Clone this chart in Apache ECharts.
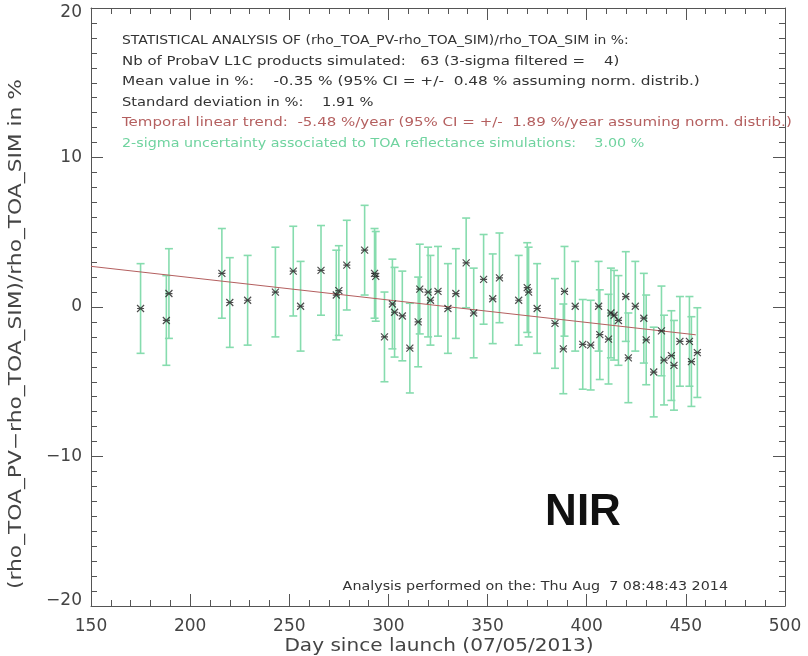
<!DOCTYPE html>
<html>
<head>
<meta charset="utf-8">
<script src="https://cdn.jsdelivr.net/npm/echarts@6/dist/echarts.min.js"></script>
<style>
  html, body { margin: 0; padding: 0; background: #fff; }
  #chart { width: 808px; height: 656px; }
</style>
</head>
<body>
<div id="chart"></div>
<script>
'use strict';

// days since launch for each simulated product
var dayValues = [
    175, 188, 189.3, 216, 220, 229, 243, 252, 255.7, 266,
    273.7, 275, 279, 288, 293, 293.6, 298, 302, 303.1, 307,
    310.8, 315, 315.8, 320, 321.2, 325, 330, 334, 339.2, 343,
    348, 352.6, 356, 365.7, 370, 370.7, 375, 384, 388.2, 388.8,
    394.2, 398, 402, 406, 406.6, 411, 412.2, 413.8, 416, 419.7,
    421, 424.5, 428.8, 430, 433.8, 437.7, 439, 442.7, 444, 447,
    451.8, 452.8, 455.8
];
// (rho_TOA_PV - rho_TOA_SIM) / rho_TOA_SIM in %
var diffValues = [
    -0.1, -0.9, 0.9, 2.25, 0.3, 0.45, 1.0, 2.4, 0.05, 2.45,
    0.8, 1.1, 2.8, 3.8, 2.25, 2.05, -2.0, 0.2, -0.35, -0.6,
    -2.75, -1.0, 1.2, 1.0, 0.45, 1.05, -0.1, 0.9, 2.95, -0.4,
    1.85, 0.55, 1.95, 0.45, 1.3, 1.0, -0.1, -1.1, -2.8, 1.05,
    0.05, -2.5, -2.55, 0.05, -1.85, -2.15, -0.4, -0.55, -0.9, 0.7,
    -3.4, 0.05, -0.75, -2.2, -4.35, -1.6, -3.55, -3.25, -3.9, -2.3,
    -2.3, -3.65, -3.05
];
// 2-sigma uncertainty of the TOA reflectance simulations (%)
var sigmaValue = 3.0;
// temporal linear trend end points
var trendX = [150, 455];
var trendY = [2.72, -1.86];

var infoLines = [
    'STATISTICAL ANALYSIS OF (rho_TOA_PV-rho_TOA_SIM)/rho_TOA_SIM in %:',
    'Nb of ProbaV L1C products simulated:   63 (3-sigma filtered =    4)',
    'Mean value in %:    -0.35 % (95% CI = +/-  0.48 % assuming norm. distrib.)',
    'Standard deviation in %:    1.91 %',
    'Temporal linear trend:  -5.48 %/year (95% CI = +/-  1.89 %/year assuming norm. distrib.)',
    '2-sigma uncertainty associated to TOA reflectance simulations:    3.00 %'
];
var infoColors = ['#333', '#333', '#333', '#333', '#b45f5f', '#6fd39f'];
// the plot font is wide, stretch each line a bit
var infoStretch = [1.07, 1.15, 1.18, 1.13, 1.155, 1.10];

var FONT = 'DejaVu Sans';
var AXIS_COLOR = '#555';
var BAR_COLOR = '#86dcae';

document.addEventListener('DOMContentLoaded', function () {
    var myChart = echarts.init(document.getElementById('chart'));

    var pointData = dayValues.map(function (d, i) { return [d, diffValues[i]]; });
    var barData = dayValues.map(function (d, i) {
        return [d, diffValues[i] - sigmaValue, diffValues[i] + sigmaValue];
    });
    var trendData = trendX.map(function (d, i) { return [d, trendY[i]]; });

    var graphics = infoLines.map(function (t, i) {
        return {
            type: 'text',
            x: 122, y: 41 + i * 20.5,
            scaleX: infoStretch[i],
            style: { text: t, fill: infoColors[i], font: '13px "' + FONT + '"', verticalAlign: 'middle' }
        };
    });
    graphics.push({
        type: 'text', x: 728, y: 587, scaleX: 1.1,
        style: {
            text: 'Analysis performed on the: Thu Aug  7 08:48:43 2014', fill: '#333',
            font: '13px "' + FONT + '"', align: 'right', verticalAlign: 'middle'
        }
    });
    graphics.push({
        type: 'text', x: 583, y: 513,
        style: { text: 'NIR', fill: '#111', font: 'bold 44px "Liberation Sans"', align: 'center', verticalAlign: 'middle' }
    });
    // axis titles
    graphics.push({
        type: 'text', x: 439, y: 647, scaleX: 1.18,
        style: {
            text: 'Day since launch (07/05/2013)', fill: '#444', font: '17px "' + FONT + '"',
            align: 'center', verticalAlign: 'middle'
        }
    });
    graphics.push({
        type: 'text', x: 17, y: 334, rotation: Math.PI / 2, scaleX: 1.28,
        style: {
            text: '(rho_TOA_PV\u2212rho_TOA_SIM)/rho_TOA_SIM in %',
            fill: '#444', font: '17px "' + FONT + '"', align: 'center', verticalAlign: 'middle'
        }
    });

    function axisX(pos, showLabel) {
        return {
            type: 'value', position: pos, min: 150, max: 500, interval: 50,
            axisLine: { show: true, onZero: false, lineStyle: { color: AXIS_COLOR, width: 1 } },
            axisTick: { show: true, inside: true, length: 12, lineStyle: { color: AXIS_COLOR } },
            minorTick: { show: true, splitNumber: 5, length: 6, lineStyle: { color: AXIS_COLOR } },
            axisLabel: { show: showLabel, margin: 12, fontSize: 17, color: '#444', fontFamily: FONT },
            splitLine: { show: false }
        };
    }
    function axisY(pos, showLabel) {
        return {
            type: 'value', position: pos, min: -20, max: 20, interval: 10,
            axisLine: { show: true, onZero: false, lineStyle: { color: AXIS_COLOR, width: 1 } },
            axisTick: { show: true, inside: true, length: 12, lineStyle: { color: AXIS_COLOR } },
            minorTick: { show: true, splitNumber: 10, length: 6, lineStyle: { color: AXIS_COLOR } },
            axisLabel: {
                show: showLabel, margin: 9, fontSize: 17, color: '#444', fontFamily: FONT,
                lineHeight: 10,
                verticalAlignMinLabel: 'bottom',
                verticalAlignMaxLabel: 'top',
                formatter: function (v) { return v < 0 ? '\u2212' + Math.abs(v) : String(v); }
            },
            splitLine: { show: false }
        };
    }

    var option = {
        animation: false,
        backgroundColor: '#fff',
        grid: { left: 91, right: 23, top: 8, bottom: 50, containLabel: false, outerBoundsMode: 'none' },
        xAxis: [axisX('bottom', true), axisX('top', false)],
        yAxis: [axisY('left', true), axisY('right', false)],
        graphic: graphics,
        series: [
            {
                // error bars (+/- 2-sigma)
                type: 'custom',
                data: barData,
                z: 2,
                renderItem: function (params, api) {
                    var lo = api.coord([api.value(0), api.value(1)]);
                    var hi = api.coord([api.value(0), api.value(2)]);
                    var w = 4;
                    var st = { stroke: BAR_COLOR, lineWidth: 1.6 };
                    return {
                        type: 'group',
                        children: [
                            { type: 'line', shape: { x1: lo[0], y1: lo[1], x2: hi[0], y2: hi[1] }, style: st },
                            { type: 'line', shape: { x1: lo[0] - w, y1: lo[1], x2: lo[0] + w, y2: lo[1] }, style: st },
                            { type: 'line', shape: { x1: hi[0] - w, y1: hi[1], x2: hi[0] + w, y2: hi[1] }, style: st }
                        ]
                    };
                }
            },
            {
                type: 'line',
                data: trendData,
                symbol: 'none',
                z: 3,
                lineStyle: { color: '#b45f5f', width: 1 }
            },
            {
                type: 'scatter',
                data: pointData,
                z: 4,
                symbol: 'path://M0,0L10,10M10,0L0,10M0,5L10,5',
                symbolSize: 7,
                itemStyle: { color: 'transparent', borderColor: '#222', borderWidth: 1.2 }
            }
        ]
    };

    myChart.setOption(option);
    window.onresize = function () {
        myChart.resize();
    };
});
</script>
</body>
</html>
